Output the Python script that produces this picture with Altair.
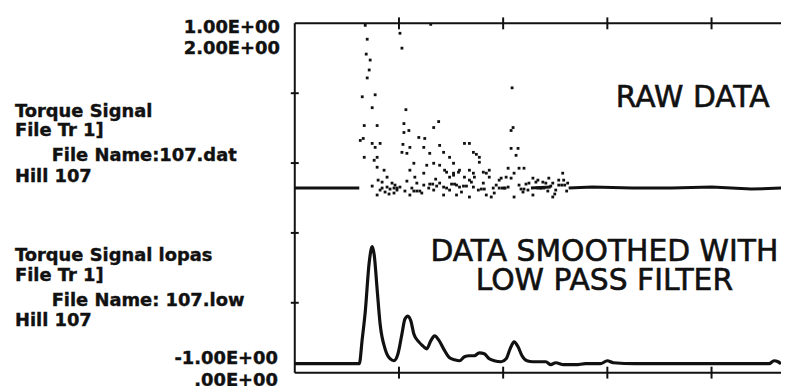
import altair as alt
import pandas as pd

INK = "#111111"

# ---- data (x: sample index, y: amplitude counts) ----
smooth_x = [0, 65, 68, 71, 75, 78, 80, 83, 86, 91, 96, 100, 104, 108, 111, 114, 117, 120, 125, 129,
            133, 137, 141, 145, 150, 156, 161, 166, 171, 176, 181, 186, 191, 196, 201, 208, 213, 217, 221, 225,
            229, 234, 240, 253, 258, 263, 271, 283, 293, 308, 315, 321, 343, 403, 478, 483, 487, 490]
smooth_y = [9, 9, 34, 61, 111, 127, 119, 84, 49, 24, 14, 12, 19, 39, 54, 57, 52, 39, 31, 27,
            24, 32, 37, 33, 24, 15, 13, 12, 16, 17, 17, 20, 19, 14, 12, 11, 14, 24, 31, 26,
            17, 12, 11, 11, 8, 10, 8, 8, 9, 9, 12, 10, 9, 9, 9, 12, 11, 9]

raw_line_x = [0, 65, 238, 258, 276, 300, 340, 380, 420, 460, 490]
raw_line_y = [186, 186, 186, 187, 186, 187, 186, 186, 187, 185, 186]
raw_line_seg = ["a", "a", "b", "b", "c", "c", "c", "c", "c", "c", "c"]

raw_pts_x = [73, 106, 108, 72, 76, 75, 73, 68, 81, 78, 112, 70, 83, 110, 110, 115, 145, 140, 125, 131,
             66, 78, 81, 86, 109, 116, 108, 113, 70, 80, 83, 130, 136, 146, 140, 133, 120, 156, 151, 160,
             83, 90, 93, 116, 121, 130, 98, 101, 93, 103, 86, 123, 130, 146, 150, 140, 156, 83, 100, 116,
             219, 220, 218, 171, 176, 180, 183, 186, 218, 225, 223, 150, 146, 160, 186, 226, 231, 215, 221, 270,
             153, 165, 176, 190, 196, 156, 171, 181, 196, 208, 218, 240, 266, 271, 243, 253, 163, 176, 190, 203,
             215, 226, 166, 180, 185, 200, 211, 230, 235, 248, 258, 263, 150, 163, 176, 193, 198, 221, 240, 260,
             245, 250, 260, 193, 206, 180, 166, 160, 88, 96, 106, 111, 118, 126, 135, 143, 153, 69, 71, 137,
             88, 95, 78, 84,
             100, 103, 170, 173, 206, 209, 212, 228, 231, 245, 248, 251, 266, 269, 272, 120, 123, 136, 139,
             158, 161, 188, 191, 236, 255, 275, 91, 113, 128, 142, 168, 178, 201, 213, 233, 256, 262, 274]
raw_pts_y = [336, 342, 327, 321, 315, 305, 297, 278, 280, 267, 265, 249, 249, 251, 242, 244, 253, 247, 237, 236,
             234, 231, 227, 231, 230, 227, 222, 221, 217, 214, 217, 227, 221, 229, 211, 209, 211, 217, 204, 201,
             207, 204, 197, 204, 197, 201, 191, 189, 187, 184, 184, 191, 189, 191, 187, 184, 184, 179, 181, 179,
             287, 247, 244, 231, 231, 222, 220, 217, 226, 226, 219, 222, 209, 211, 212, 206, 206, 206, 201, 201,
             202, 202, 204, 202, 204, 197, 197, 197, 197, 196, 196, 196, 194, 194, 192, 191, 189, 194, 191, 189,
             187, 189, 187, 187, 184, 186, 186, 182, 184, 186, 188, 184, 179, 179, 177, 179, 177, 177, 179, 177,
             194, 192, 191, 201, 194, 201, 204, 199, 186, 185, 187, 183, 186, 183, 186, 188, 186, 236, 350, 351,
             192, 180, 188, 194,
             186, 186, 188, 188, 186, 186, 186, 185, 185, 186, 186, 186, 189, 189, 189, 183, 183, 190, 190,
             190, 190, 185, 185, 191, 183, 191, 182, 193, 181, 195, 182, 192, 181, 197, 190, 196, 180, 183]

x_ticks = [105, 210, 315, 420]
y_ticks = [70.4, 140.8, 211.2, 281.6]

axis_labels = ["1.00E+00", "2.00E+00", "-1.00E+00", ".00E+00"]
axis_label_y = [342, 321, 9, -13]
axis_label_x = [-15, -15, -17, -17]

upper_block = ["Torque Signal", "File Tr 1]", "File Name:107.dat", "Hill 107"]
upper_block_y = [258, 238, 213, 192]
lower_block = ["Torque Signal lopas", "File Tr 1]", "File Name: 107.low", "Hill 107"]
lower_block_y = [112, 92, 67, 47]
block_x = [-282, -282, -245, -282]

big_text = ["RAW DATA", "DATA SMOOTHED WITH", "LOW PASS FILTER"]
big_text_x = [401, 312, 312]
big_text_y = [268, 112, 83]

XMAX, YMAX = 490, 352

# ---- tables ----
xs = alt.Scale(domain=[0, XMAX], nice=False, zero=False)
ys = alt.Scale(domain=[0, YMAX], nice=False, zero=False)

df_smooth = pd.DataFrame({"x": smooth_x, "y": smooth_y})
df_rawline = pd.DataFrame({"x": raw_line_x, "y": raw_line_y, "seg": raw_line_seg})
df_pts = pd.DataFrame({"x": raw_pts_x, "y": raw_pts_y})

frame = pd.DataFrame({
    "x": [0, 0, 0], "x2": [0, XMAX, XMAX],
    "y": [0, YMAX, 0], "y2": [YMAX, YMAX, 0],
})
ticks = pd.DataFrame(
    [{"x": t, "x2": t, "y": YMAX - 6, "y2": YMAX + 6} for t in x_ticks]
    + [{"x": t, "x2": t, "y": -6, "y2": 6} for t in x_ticks]
    + [{"x": -4, "x2": 4, "y": t, "y2": t} for t in y_ticks]
)

df_axlab = pd.DataFrame({"t": axis_labels, "x": axis_label_x, "y": axis_label_y})
df_block = pd.DataFrame({
    "t": upper_block + lower_block,
    "x": block_x + block_x,
    "y": upper_block_y + lower_block_y,
})
df_big = pd.DataFrame({"t": big_text, "x": big_text_x, "y": big_text_y})

X = lambda: alt.X("x:Q", scale=xs, axis=None)
Y = lambda: alt.Y("y:Q", scale=ys, axis=None)

frame_layer = alt.Chart(frame).mark_rule(color=INK, strokeWidth=2).encode(
    x=X(), x2="x2:Q", y=Y(), y2="y2:Q")
tick_layer = alt.Chart(ticks).mark_rule(color=INK, strokeWidth=2).encode(
    x=X(), x2="x2:Q", y=Y(), y2="y2:Q")
raw_line_layer = alt.Chart(df_rawline).mark_line(color=INK, strokeWidth=3).encode(
    x=X(), y=Y(), detail="seg:N")
pts_layer = alt.Chart(df_pts).mark_square(color=INK, size=8, opacity=1).encode(x=X(), y=Y())
smooth_layer = alt.Chart(df_smooth).mark_line(color=INK, strokeWidth=3.2, interpolate="monotone").encode(
    x=X(), y=Y())

axlab_layer = alt.Chart(df_axlab).mark_text(
    align="right", baseline="alphabetic", font="DejaVu Sans", fontWeight="bold",
    fontSize=18, color=INK, stroke=INK, strokeWidth=0.4).encode(x=X(), y=Y(), text="t:N")
block_layer = alt.Chart(df_block).mark_text(
    align="left", baseline="alphabetic", font="DejaVu Sans", fontWeight="bold",
    fontSize=18, color=INK, stroke=INK, strokeWidth=0.4).encode(x=X(), y=Y(), text="t:N")
big_layer = alt.Chart(df_big).mark_text(
    align="center", baseline="alphabetic", font="DejaVu Sans",
    fontSize=30, color=INK, stroke=INK, strokeWidth=0.6).encode(x=X(), y=Y(), text="t:N")

chart = alt.layer(
    frame_layer, tick_layer, raw_line_layer, pts_layer, smooth_layer,
    axlab_layer, block_layer, big_layer
).properties(
    width=XMAX, height=YMAX,
    padding={"left": 289, "top": 14, "right": 0, "bottom": 12},
    autosize=alt.AutoSizeParams(type="none"),
    background="white",
).configure_view(stroke=None)

chart.save("out.html", embed_options={"renderer": "svg", "actions": False})
